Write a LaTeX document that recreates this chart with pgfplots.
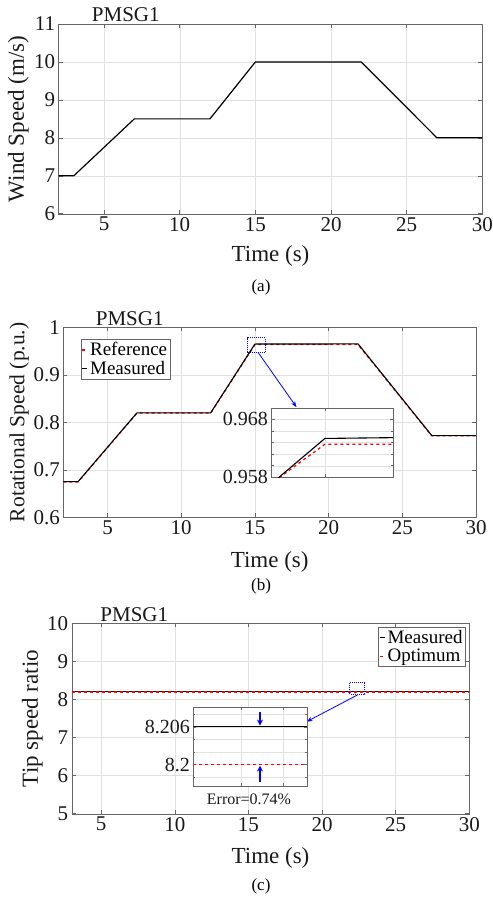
\documentclass[border=0pt]{standalone}
\usepackage{fontspec}
\setmainfont{Liberation Serif}
\usepackage{pgfplots}
\pgfplotsset{compat=1.18}
\usetikzlibrary{arrows.meta}

\pgfplotsset{
  mystyle/.style={
    scale only axis,
    anchor=south west,
    axis line style={black!60},
    tick style={black!60, line width=0.5pt},
    major tick length=4pt,
    grid=major,
    major grid style={black!12},
    /pgf/number format/assume math mode=true,
    tick label style={font=\fontsize{21}{21}\selectfont, text=black!90},
    label style={font=\fontsize{23}{23}\selectfont, text=black!90},
    xlabel={Time (s)},
    xtick={5,10,...,30},
    xmax=30,
  },
  insetstyle/.style={
    scale only axis,
    anchor=south west,
    axis background/.style={fill=white},
    axis line style={black!60},
    tick style={black!60, line width=0.5pt},
    major tick length=3pt,
    minor tick length=2pt,
    grid=both,
    major grid style={black!12},
    minor grid style={black!12},
    xticklabels={},
    /pgf/number format/assume math mode=true,
    tick label style={font=\fontsize{20}{20}\selectfont, text=black!90},
  },
  mylegend/.style={
    legend cell align=left,
    legend image code/.code={\draw[##1] (0pt,0pt) -- (5pt,0pt);},
  }
}

\begin{document}
\begin{tikzpicture}
\useasboundingbox (0,0) rectangle (493pt,-898pt);

% ---------------- (a) ----------------
\begin{axis}[mystyle, at={(58.7pt,-213.7pt)}, width=423.6pt, height=189.7pt,
  xmin=2, ymin=6, ymax=11, ytick={6,7,8,9,10,11},
  ylabel={Wind Speed (m/s)},
  xlabel style={at={(axis description cs:0.5,-0.223)}, anchor=center},
  ylabel style={at={(axis description cs:-0.0954,0.5)}, anchor=center}]
\addplot[black, line width=1.2pt] coordinates {(2,7) (3,7) (7,8.5) (12,8.5) (15,10) (22,10) (27,8) (30,8)};
\end{axis}
\node[anchor=base, font=\fontsize{21}{21}\selectfont, text=black!90] at (125.8pt,-21.7pt) {PMSG1};
\node[font=\fontsize{17}{17}\selectfont] at (261pt,-287pt) {(a)};

% ---------------- (b) ----------------
\begin{axis}[mystyle, mylegend, at={(63.3pt,-517.3pt)}, width=412.7pt, height=190pt,
  xmin=2, ymin=0.6, ymax=1, ytick={0.6,0.7,0.8,0.9,1}, yticklabels={0.6,0.7,0.8,0.9,1},
  ylabel={Rotational Speed (p.u.)},
  label style={font=\fontsize{21.5}{21.5}\selectfont},
  xlabel style={at={(axis description cs:0.5,-0.234)}, anchor=center, font=\fontsize{23}{23}\selectfont},
  ylabel style={at={(axis description cs:-0.107,0.5)}, anchor=center},
  legend style={at={(0.042,0.937)}, anchor=north west, font=\fontsize{19}{20}\selectfont,
    draw=black!60, inner xsep=1pt, inner ysep=1pt, row sep=0pt}]
\addplot[red, dashed, line width=1.3pt] coordinates {(2,0.6745) (3,0.6745) (7,0.8195) (12,0.8195) (15,0.9637) (22,0.9637) (27,0.7715) (30,0.7715)};
\addlegendentry{Reference}
\addplot[black, line width=1.1pt] coordinates {(2,0.675) (3,0.675) (7,0.82) (12,0.82) (15,0.9647) (15.2,0.9649) (22,0.965) (27,0.772) (30,0.772)};
\addlegendentry{Measured}
\draw[blue, densely dotted, line width=1pt] (axis cs:14.47,0.947) rectangle (axis cs:15.72,0.978);
\draw[blue, line width=0.8pt, -{Stealth[length=6pt]}] (axis cs:15.22,0.947) -- (axis cs:17.82,0.832);
\end{axis}
\begin{axis}[insetstyle, at={(271.5pt,-477.3pt)}, width=121.8pt, height=69.6pt,
  xmin=14.836, xmax=15.21, ymin=0.958, ymax=0.970,
  xtick={15}, ytick={0.958,0.968}, yticklabels={0.958,0.968},
  minor ytick={0.960,0.962,0.964,0.966}]
\addplot[red, dashed, line width=1.2pt] coordinates {(14.8,0.9555) (15,0.9637) (15.3,0.9637)};
\addplot[black, line width=1.1pt] coordinates {(14.8,0.9552) (15,0.9647) (15.3,0.9649)};
\end{axis}
\node[anchor=base, font=\fontsize{21}{21}\selectfont, text=black!90] at (129.7pt,-325pt) {PMSG1};
\node[font=\fontsize{17}{17}\selectfont] at (261pt,-586pt) {(b)};

% ---------------- (c) ----------------
\begin{axis}[mystyle, mylegend, at={(71.7pt,-813.7pt)}, width=397.6pt, height=190.4pt,
  xmin=3, ymin=5, ymax=10, ytick={5,6,7,8,9,10},
  ylabel={Tip speed ratio},
  xlabel style={at={(axis description cs:0.5,-0.231)}, anchor=center},
  ylabel style={at={(axis description cs:-0.099,0.5)}, anchor=center},
  legend style={at={(0.991,0.979)}, anchor=north east, font=\fontsize{19}{20}\selectfont,
    draw=black!60, inner xsep=1pt, inner ysep=1pt, row sep=0pt}]
\addplot[black, line width=1.1pt] coordinates {(3,8.206) (30,8.206)};
\addlegendentry{Measured}
\addplot[red, dashed, line width=1.3pt] coordinates {(3,8.2) (30,8.2)};
\addlegendentry{Optimum}
\draw[blue, densely dotted, line width=1pt] (axis cs:21.89,8.135) rectangle (axis cs:22.9,8.45);
\draw[blue, line width=0.8pt, -{Stealth[length=6pt]}] (axis cs:22.4,8.117) -- (axis cs:18.95,7.416);
\end{axis}
\begin{axis}[insetstyle, at={(193.3pt,-786pt)}, width=114pt, height=79.3pt,
  xmin=21.9, xmax=22.9, ymin=8.1966, ymax=8.2092,
  xtick={22.32,22.69}, ytick={8.2,8.206}, yticklabels={8.2,8.206},
  minor ytick={8.198,8.202,8.204,8.208}]
\addplot[black, line width=1.2pt] coordinates {(21.9,8.206) (22.9,8.206)};
\addplot[red, dashed, line width=1.2pt] coordinates {(21.9,8.2) (22.9,8.2)};
\draw[blue, line width=1.4pt, -{Stealth[length=6pt,width=6pt]}] (axis cs:22.485,8.2084) -- (axis cs:22.485,8.2062);
\draw[blue, line width=1.4pt, -{Stealth[length=6pt,width=6pt]}] (axis cs:22.485,8.1973) -- (axis cs:22.485,8.19985);
\end{axis}
\node[font=\fontsize{16}{16}\selectfont, text=black!90] at (249pt,-799.3pt) {Error=0.74\%};
\node[anchor=base, font=\fontsize{21}{21}\selectfont, text=black!90] at (134.3pt,-621.7pt) {PMSG1};
\node[font=\fontsize{17}{17}\selectfont] at (261pt,-886.7pt) {(c)};
\end{tikzpicture}
\end{document}
